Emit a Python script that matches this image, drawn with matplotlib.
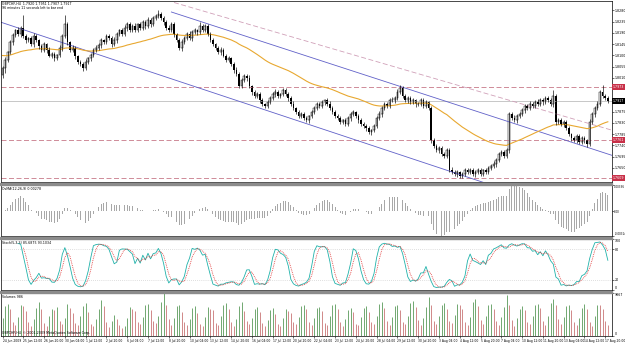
import numpy as np
import pandas as pd
import matplotlib
matplotlib.use("Agg")
import matplotlib.pyplot as plt
from matplotlib.patches import Rectangle

# H4 bars, 24 Jun 2009 04:00 .. 18 Aug 2009 00:00
title_text = "GBPCHF,H4  1.7920 1.7951 1.7907 1.7917"
timer_text = "96 minutes 11 seconds left to bar end"
osma_text = "OsMA(12,26,9) 0.00278"
stoch_text = "Stoch(5,3,3) 85.6875 93.1034"
vol_text = "Volumes 986"
copy_text = "GBPCHF,H4  \u00a9 2001-2009 MetaQuotes Software Corp."

first_open = 1.8021
close = [
    1.8049, 1.8081, 1.8113, 1.8153, 1.8181, 1.8201, 1.8185, 1.8209, 1.8177, 1.8161,
    1.8169, 1.8145, 1.8177, 1.8161, 1.8137, 1.8121, 1.8145, 1.8121, 1.8097, 1.8105,
    1.8089, 1.8101, 1.8129, 1.8177, 1.8225, 1.8153, 1.8121, 1.8129, 1.8097, 1.8073,
    1.8065, 1.8049, 1.8073, 1.8089, 1.8101, 1.8121, 1.8129, 1.8141, 1.8161, 1.8153,
    1.8177, 1.8169, 1.8145, 1.8161, 1.8185, 1.8201, 1.8185, 1.8209, 1.8225, 1.8201,
    1.8217, 1.8201, 1.8225, 1.8209, 1.8233, 1.8217, 1.8241, 1.8225, 1.8249, 1.8257,
    1.8265, 1.8249, 1.8233, 1.8209, 1.8201, 1.8225, 1.8185, 1.8161, 1.8129, 1.8153,
    1.8169, 1.8185, 1.8169, 1.8193, 1.8201, 1.8193, 1.8217, 1.8201, 1.8217, 1.8185,
    1.8161, 1.8145, 1.8129, 1.8113, 1.8121, 1.8097, 1.8081, 1.8089, 1.8065, 1.8041,
    1.8025, 1.7977, 1.8001, 1.8017, 1.8009, 1.7977, 1.7953, 1.7937, 1.7945, 1.7921,
    1.7905, 1.7897, 1.7913, 1.7929, 1.7945, 1.7953, 1.7937, 1.7945, 1.7961, 1.7945,
    1.7929, 1.7905, 1.7889, 1.7873, 1.7857, 1.7865, 1.7849, 1.7841, 1.7857, 1.7873,
    1.7889, 1.7905, 1.7897, 1.7913, 1.7921, 1.7905, 1.7889, 1.7873, 1.7857, 1.7849,
    1.7833, 1.7841, 1.7825, 1.7849, 1.7865, 1.7873, 1.7857, 1.7841, 1.7825, 1.7817,
    1.7809, 1.7793, 1.7801, 1.7817, 1.7849, 1.7865, 1.7889, 1.7905, 1.7897, 1.7921,
    1.7921, 1.7929, 1.7953, 1.7969, 1.7937, 1.7921, 1.7929, 1.7913, 1.7921, 1.7905,
    1.7905, 1.7921, 1.7897, 1.7913, 1.7889, 1.7761, 1.7737, 1.7721, 1.7729, 1.7705,
    1.7697, 1.7721, 1.7641, 1.7633, 1.7625, 1.7633, 1.7617, 1.7625, 1.7641, 1.7633,
    1.7641, 1.7625, 1.7633, 1.7641, 1.7625, 1.7641, 1.7633, 1.7649, 1.7657, 1.7665,
    1.7681, 1.7705, 1.7713, 1.7697, 1.7721, 1.7865, 1.7849, 1.7841, 1.7857, 1.7865,
    1.7881, 1.7897, 1.7889, 1.7905, 1.7897, 1.7913, 1.7905, 1.7921, 1.7913, 1.7929,
    1.7921, 1.7905, 1.7937, 1.7833, 1.7841, 1.7825, 1.7833, 1.7809, 1.7785, 1.7769,
    1.7761, 1.7777, 1.7753, 1.7769, 1.7761, 1.7745, 1.7833, 1.7865, 1.7889, 1.7905,
    1.7953, 1.7937, 1.7929, 1.7917,
]
# wick lengths in pips above / below the body
up_wick = [
    8, 12, 6, 10, 9, 5, 14, 8, 52, 10, 6, 9, 12, 7, 5, 10, 8, 6, 11, 7,
    9, 6, 14, 10, 36, 8, 6, 12, 7, 5, 9, 8, 11, 6, 10, 7, 12, 9, 8, 6,
    10, 7, 9, 12, 8, 6, 10, 14, 9, 7, 8, 12, 6, 10, 9, 7, 11, 8, 10, 9,
    16, 8, 10, 7, 12, 9, 8, 6, 10, 11, 9, 7, 12, 8, 10, 6, 14, 8, 9, 7,
    8, 10, 6, 9, 12, 7, 8, 10, 6, 9, 11, 7, 10, 8, 9, 12, 6, 8, 10, 7,
    9, 6, 8, 10, 7, 12, 8, 6, 9, 10, 7, 8, 11, 6, 9, 8, 10, 7, 6, 9,
    8, 10, 7, 9, 6, 8, 12, 7, 9, 8, 10, 6, 9, 8, 7, 10, 6, 8, 9, 7,
    8, 9, 6, 10, 8, 12, 9, 7, 10, 8, 14, 9, 12, 12, 8, 10, 7, 9, 8, 6,
    9, 8, 10, 7, 6, 8, 9, 10, 8, 7, 10, 8, 9, 12, 7, 8, 6, 9, 10, 7,
    8, 9, 7, 10, 8, 6, 9, 8, 10, 12, 9, 10, 8, 7, 9, 8, 10, 14, 9, 8,
    10, 9, 8, 12, 10, 9, 11, 8, 10, 7, 9, 10, 24, 8, 9, 7, 10, 8, 9, 6,
    8, 10, 7, 9, 8, 6, 12, 9, 10, 14, 10, 28, 8, 9,
]
dn_wick = [
    10, 18, 8, 6, 12, 9, 7, 10, 8, 12, 9, 6, 10, 8, 12, 7, 9, 11, 6, 8,
    10, 8, 6, 12, 9, 10, 7, 8, 11, 9, 8, 12, 7, 9, 10, 6, 8, 9, 12, 7,
    9, 8, 10, 7, 11, 9, 6, 8, 10, 9, 7, 10, 8, 9, 6, 12, 8, 10, 7, 9,
    8, 9, 11, 7, 10, 8, 12, 9, 8, 10, 9, 8, 7, 10, 9, 11, 6, 8, 10, 9,
    10, 7, 9, 8, 11, 6, 10, 9, 8, 12, 8, 10, 7, 9, 12, 8, 10, 7, 9, 11,
    9, 8, 10, 7, 9, 12, 6, 10, 8, 9, 10, 7, 9, 8, 6, 10, 9, 8, 11, 7,
    9, 8, 10, 6, 12, 9, 8, 10, 7, 9, 8, 10, 7, 9, 11, 8, 6, 10, 9, 8,
    10, 9, 12, 8, 7, 9, 10, 8, 9, 7, 8, 10, 9, 7, 8, 9, 10, 8, 9, 10,
    9, 8, 7, 10, 9, 12, 8, 9, 10, 8, 9, 10, 8, 7, 9, 10, 8, 9, 7, 10,
    8, 9, 10, 8, 7, 9, 10, 8, 9, 7, 10, 8, 9, 7, 10, 12, 8, 9, 10, 8,
    9, 10, 8, 9, 7, 10, 8, 9, 10, 8, 9, 8, 10, 12, 9, 8, 10, 9, 8, 10,
    9, 10, 8, 9, 10, 12, 8, 9, 10, 8, 9, 10, 8, 7,
]
volume = [
    4100, 6800, 7400, 6200, 3300,
    2600, 4300, 7100, 6900, 5800, 3100, 2400, 3900, 6500, 7800, 6100, 2900,
    2200, 4500, 6200, 5900, 6600, 3400, 2800, 4100, 7300, 6400, 5200, 3000,
    2500, 4700, 6900, 7600, 5500, 2700, 2300, 3800, 6100, 8200, 6800, 3200,
    2100, 3500, 4800, 3900, 2600, 1900, 2400, 4200, 6600, 6200, 5700, 3300,
    2700, 4400, 7000, 7300, 6000, 3500, 2900, 4600, 7900, 9867, 7100, 3800,
    2600, 4100, 6800, 7200, 5600, 3100, 2500, 3900, 6400, 6900, 5300, 2800,
    2300, 4300, 6700, 6100, 5900, 3000, 2600, 4500, 7200, 7500, 6300, 3200,
    2400, 4000, 6900, 7700, 5800, 3400, 2800, 4200, 6300, 6600, 5500, 2900,
    2200, 3700, 5900, 6400, 5100, 2700, 2400, 4100, 6200, 5800, 5300, 3100,
    2700, 4400, 6800, 7000, 6200, 3300, 2500, 4200, 6500, 6700, 5700, 3000,
    2600, 4600, 7100, 7400, 6100, 3200, 2300, 3900, 6000, 6500, 5400, 2800,
    2500, 4300, 6400, 6900, 5600, 3100, 2700, 4500, 7300, 7800, 6400, 3500,
    2600, 4400, 6900, 7100, 6000, 3300, 2800, 4700, 7600, 8100, 6600, 3600,
    2500, 4200, 6700, 8900, 7000, 3400, 2700, 4600, 7200, 7500, 6300, 3500,
    2900, 4800, 7400, 7000, 6100, 3300, 2600, 4400, 7800, 8400, 6900, 3700,
    2800, 4600, 7100, 7300, 6200, 3400, 2500, 4300, 6600, 9400, 7200, 3600,
    2400, 4100, 6300, 6800, 5900, 3200, 2700, 4500, 7000, 7300, 6400, 3500,
    2600, 4700, 7500, 8600, 7000, 3800, 2800, 4400, 6900, 7200, 6000, 3300,
    2500, 4200, 6500, 7400, 6200, 3100, 2400, 4600, 7100, 7000, 6300, 3400,
    2600,
]
date_labels = [
    "24 Jun 2009", "25 Jun 12:00", "26 Jun 20:00", "30 Jun 04:00", "1 Jul 12:00",
    "2 Jul 20:00", "6 Jul 04:00", "7 Jul 12:00", "8 Jul 20:00", "10 Jul 04:00",
    "13 Jul 12:00", "14 Jul 20:00", "16 Jul 04:00", "17 Jul 12:00", "20 Jul 20:00",
    "22 Jul 04:00", "23 Jul 12:00", "24 Jul 20:00", "28 Jul 04:00", "29 Jul 12:00",
    "30 Jul 20:00", "3 Aug 04:00", "4 Aug 12:00", "5 Aug 20:00", "7 Aug 04:00",
    "10 Aug 12:00", "11 Aug 20:00", "13 Aug 04:00", "14 Aug 12:00", "17 Aug 20:00",
]
price_ticks = [1.7605, 1.7650, 1.7695, 1.7740, 1.7785, 1.7830, 1.7875, 1.7920,
               1.7965, 1.8010, 1.8055, 1.8100, 1.8145, 1.8190, 1.8235, 1.8280]
h_levels = [1.7973, 1.7761, 1.7609]
ray_lower = [(0, 1.8230), (180, 1.7609)]
ray_upper = [(65, 1.8273), (233, 1.7705)]
ray_dash = [(66, 1.8311), (233, 1.7805)]
ma_seed = 1.8101
ma_period = 50

# ---------------------------------------------------------------
FS = 2.3  # MT4 uses a very small terminal font at this size
c = np.array(close)
n = len(c)
x = np.arange(n)
o = np.r_[first_open, c[:-1]]
hi = np.maximum(o, c) + np.array(up_wick) / 10000
lo = np.minimum(o, c) - np.array(dn_wick) / 10000


def ema(v, period, seed=None):
    a = 2.0 / (period + 1)
    out = np.empty(len(v))
    prev = v[0] if seed is None else seed
    for i, val in enumerate(v):
        prev = prev + a * (val - prev)
        out[i] = prev
    return out


ma = ema(c, ma_period, ma_seed)
macd = ema(c, 12) - ema(c, 26)
signal = pd.Series(macd).rolling(9, min_periods=1).mean().values
osma = macd - signal

hh = pd.Series(hi).rolling(5).max()
ll = pd.Series(lo).rolling(5).min()
num = (pd.Series(c) - ll).rolling(3).sum()
den = (hh - ll).rolling(3).sum()
k_line = (100 * num / den).values
d_line = pd.Series(k_line).rolling(3).mean().values

W, H = 625, 345
RIGHT = 612
fig = plt.figure(figsize=(W / 100, H / 100), dpi=100)
fig.patch.set_facecolor("white")
XL = (-0.77, 234.6)


def panel(top, bottom):
    ax = fig.add_axes([0.0008, 1 - bottom / H, (RIGHT - 0.5) / W, (bottom - top) / H])
    ax.set_xlim(*XL)
    ax.yaxis.tick_right()
    ax.tick_params(axis="y", labelsize=FS, length=1.2, width=0.4, pad=0.5)
    ax.set_xticks([])
    for s in ax.spines.values():
        s.set_linewidth(0.5)
    return ax


def ray(ax, pts, **kw):
    (x0, y0), (x1, y1) = pts
    sl = (y1 - y0) / (x1 - x0)
    xs = np.array([XL[0] if x0 <= 0 else x0, XL[1]])
    ax.plot(xs, y0 + sl * (xs - x0), **kw)


# main window
ax = panel(1, 182)
ax.set_ylim(1.7593, 1.8317)
boxed = h_levels + [c[-1]]
ax.set_yticks(price_ticks)
# the boxed labels on the right cover the scale labels next to them
ax.set_yticklabels(["" if min(abs(p - b) for b in boxed) < 0.0016 else "%.4f" % p
                    for p in price_ticks])
for lv in h_levels:
    ax.axhline(lv, color="#c87888", lw=0.6, dashes=(6, 3))
ax.axhline(c[-1], color="#b0b0b0", lw=0.5)
ray(ax, ray_lower, color="#6060c8", lw=0.6)
ray(ax, ray_upper, color="#6060c8", lw=0.6)
ray(ax, ray_dash, color="#d0a0b8", lw=0.6, dashes=(6, 3))
ax.plot(x, ma, color="#e8a830", lw=0.8)

up = c >= o
ax.vlines(x, lo, hi, color="black", lw=0.45)
body = np.maximum(np.abs(c - o), 0.00004)
ax.bar(x[up], body[up], bottom=o[up], width=0.62, facecolor="white",
       edgecolor="black", lw=0.35)
ax.bar(x[~up], body[~up], bottom=c[~up], width=0.62, color="black", lw=0)

tr = ax.get_yaxis_transform()
for lv in h_levels:
    ax.text(1.0015, lv, "%.4f" % lv, transform=tr, fontsize=FS, color="white",
            va="center", ha="left", clip_on=False,
            bbox=dict(boxstyle="square,pad=0.25", fc="#c83048", ec="none"))
ax.text(1.0015, c[-1], "%.4f" % c[-1], transform=tr, fontsize=FS, color="white",
        va="center", ha="left", clip_on=False,
        bbox=dict(boxstyle="square,pad=0.25", fc="black", ec="none"))
ax.text(0.003, 0.995, title_text, transform=ax.transAxes, fontsize=FS, va="top")
ax.text(0.003, 0.975, timer_text, transform=ax.transAxes, fontsize=FS, va="top")

# OsMA
ax2 = panel(185, 236)
ax2.bar(x, osma, width=0.35, color="#a8a8a8", lw=0)
lo2, hi2 = osma.min(), osma.max()
ax2.set_ylim(lo2, hi2)
ax2.set_yticks([hi2, 0, lo2])
ax2.set_yticklabels(["%.5f" % hi2, "0.00", "%.5f" % lo2])
ax2.tick_params(axis="y", labelsize=1.95)
tl = ax2.get_yticklabels()
tl[0].set_va("top")
tl[2].set_va("bottom")
ax2.text(0.003, 0.97, osma_text, transform=ax2.transAxes, fontsize=FS, va="top")

# Stochastic
ax3 = panel(239, 290)
ax3.set_ylim(0, 100)
for lv in (20, 80):
    ax3.axhline(lv, color="#c0c0c0", lw=0.5, ls=(0, (1, 2)))
ax3.plot(x, k_line, color="#20b2aa", lw=0.6)
ax3.plot(x, d_line, color="#e03030", lw=0.6, ls=(0, (1, 1.2)))
ax3.set_yticks([100, 80, 20, 0])
ax3.set_yticklabels(["100", "80", "20", "0"])
tl = ax3.get_yticklabels()
tl[0].set_va("top")
tl[3].set_va("bottom")
ax3.text(0.003, 0.97, stoch_text, transform=ax3.transAxes, fontsize=FS, va="top")

# Volumes
ax4 = panel(293, 336)
v = np.array(volume)
grow = np.r_[True, v[1:] > v[:-1]]
ax4.vlines(x[grow], 0, v[grow], color="#70a870", lw=0.7)
ax4.vlines(x[~grow], 0, v[~grow], color="#d08888", lw=0.7)
ax4.set_ylim(0, v.max())
ax4.set_yticks([v.max(), 0])
ax4.set_yticklabels(["%d" % v.max(), "0"])
tl = ax4.get_yticklabels()
tl[0].set_va("top")
tl[1].set_va("bottom")
ax4.text(0.003, 0.96, vol_text, transform=ax4.transAxes, fontsize=FS, va="top")
ax4.text(0.003, 0.03, copy_text, transform=ax4.transAxes, fontsize=FS, va="bottom")
ax4.set_xticks(x[::8])
ax4.set_xticklabels(date_labels, ha="left", fontsize=2.15)
ax4.tick_params(axis="x", length=1.5, width=0.4, pad=0.8)

for top in (183, 237, 291):
    fig.patches.append(Rectangle((0, 1 - (top + 2) / H), RIGHT / W, 2 / H,
                                 transform=fig.transFigure, color="#8c8c8c"))

fig.savefig("out.png", dpi=100, facecolor="white")
